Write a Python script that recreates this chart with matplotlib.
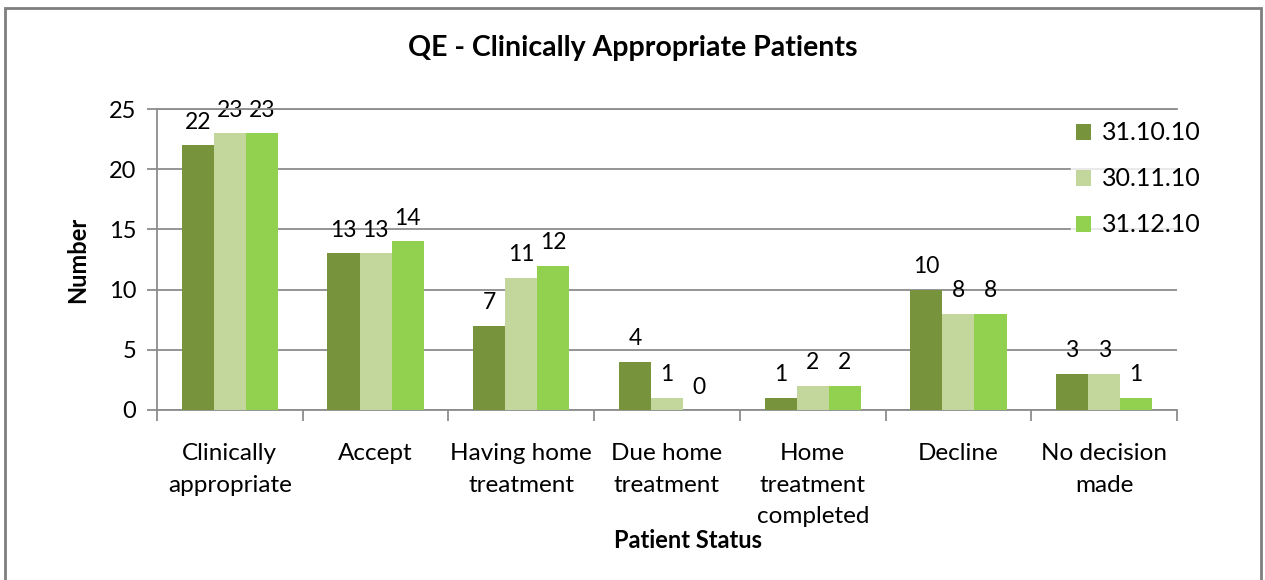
import numpy as np
import matplotlib
matplotlib.use('Agg')
import matplotlib.pyplot as plt
from matplotlib.patches import Rectangle

## Data
categories = ['Clinically\nappropriate', 'Accept', 'Having home\ntreatment',
              'Due home\ntreatment', 'Home\ntreatment\ncompleted', 'Decline',
              'No decision\nmade']
series_names = ['31.10.10', '30.11.10', '31.12.10']
oct_vals = [22, 13, 7, 4, 1, 10, 3]
nov_vals = [23, 13, 11, 1, 2, 8, 3]
dec_vals = [23, 14, 12, 0, 2, 8, 1]
colors = ['#77933C', '#C3D69B', '#92D050']

plt.rcParams['font.family'] = ['Lato', 'DejaVu Sans']

fig = plt.figure(figsize=(12.65, 5.8), dpi=100)
ax = fig.add_axes([157 / 1265, 1 - 410 / 580, (1177 - 157) / 1265, (410 - 109) / 580])

x = np.arange(len(categories))
w = 0.22
grey = '#8c8c8c'
for ii, vals in enumerate([oct_vals, nov_vals, dec_vals]):
    bars = ax.bar(x + (ii - 1) * w, vals, w, color=colors[ii], label=series_names[ii], zorder=3)
    for b, v in zip(bars, vals):
        ax.annotate(str(v), (b.get_x() + b.get_width() / 2, v), xytext=(0, 9),
                    textcoords='offset points', ha='center', va='bottom', fontsize=16.5)

ax.set_xlim(-0.5, len(categories) - 0.5)
ax.set_ylim(0, 25)
ax.set_yticks(range(0, 26, 5))
ax.yaxis.grid(True, color=grey, lw=1.3, zorder=0)
# top gridline stays visible over the legend box
ax.axhline(25, color=grey, lw=1.3, zorder=6, clip_on=False)
ax.set_xticks(x)
ax.set_xticklabels(categories, fontsize=17.5, linespacing=1.6)
ax.set_xticks(np.arange(-0.5, len(categories)), minor=True)
ax.tick_params(axis='x', which='major', length=0, pad=24)
ax.tick_params(axis='x', which='minor', length=8, color=grey, width=1.3)
ax.tick_params(axis='y', length=7, color=grey, width=1.3, labelsize=17, pad=8)
for s in ['top', 'right']:
    ax.spines[s].set_visible(False)
for s in ['left', 'bottom']:
    ax.spines[s].set_color(grey)
    ax.spines[s].set_linewidth(1.3)

ax.set_ylabel('Number', fontsize=17, fontweight='bold', labelpad=14)
fig.text(688 / 1265, 1 - 541 / 580, 'Patient Status', fontsize=17, fontweight='bold',
         ha='center', va='center')
fig.text(0.5, 1 - 48 / 580, 'QE - Clinically Appropriate Patients', fontsize=20.5,
         fontweight='bold', ha='center', va='center')

leg = ax.legend(loc='upper left', bbox_to_anchor=(1058 / 1265, 1 - 104 / 580),
                bbox_transform=fig.transFigure, frameon=True, fontsize=18,
                handlelength=0.6, handleheight=0.6, handletextpad=0.45,
                labelspacing=0.92, borderpad=0.2, fancybox=False)
leg.get_frame().set_edgecolor('white')
leg.get_frame().set_facecolor('white')
leg.set_zorder(5)

fig.patches.append(Rectangle((5 / 1265, -0.02), (1261 - 5) / 1265, 1 - 8 / 580 + 0.02,
                             transform=fig.transFigure, fill=False, edgecolor='#7f7f7f', lw=2))

fig.savefig('out.png', dpi=100)
